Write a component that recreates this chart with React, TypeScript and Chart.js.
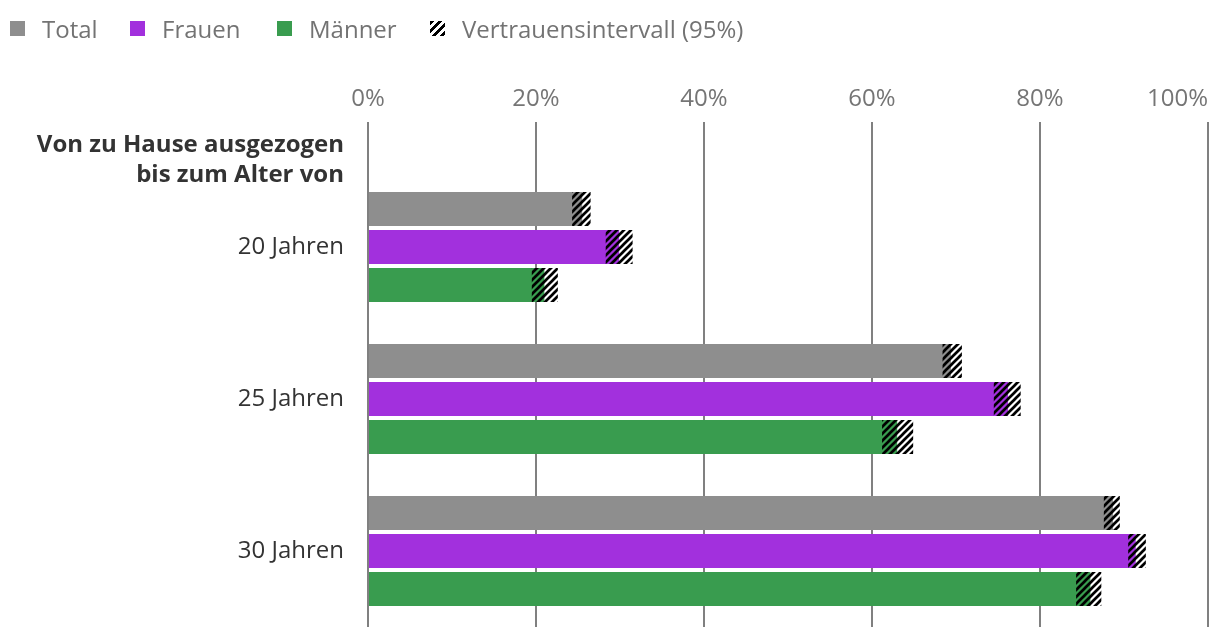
import React, { useEffect, useRef } from "react";
import { Chart, registerables } from "chart.js";

Chart.register(...registerables);

// ---- data ----
const categories = ["20 Jahren", "25 Jahren", "30 Jahren"];
const headerLines = ["Von zu Hause ausgezogen", "bis zum Alter von"];
const seriesNames = ["Total", "Frauen", "Männer"];
const ciLabel = "Vertrauensintervall (95%)";
const xTickValues = [0, 20, 40, 60, 80, 100];

const totalValues = [25.5, 69.4, 88.7];
const frauenValues = [29.9, 76.2, 91.4];
const maennerValues = [21.0, 63.0, 86.0];

const totalLow = [24.3, 68.4, 87.6];
const totalHigh = [26.5, 70.7, 89.5];
const frauenLow = [28.3, 74.5, 90.5];
const frauenHigh = [31.5, 77.7, 92.6];
const maennerLow = [19.5, 61.2, 84.3];
const maennerHigh = [22.6, 64.9, 87.3];

// ---- style ----
const seriesColors = ["#8e8e8e", "#a230dd", "#399c4f"];
const FONT = "'Open Sans', 'Noto Sans', sans-serif";
const gridColor = "#808080";
const tickColor = "#757575";
const labelColor = "#333333";
const legendLefts = [10, 130, 277, 430];

function makeHatch(): CanvasPattern | string {
  const s = 7;
  const c = document.createElement("canvas");
  c.width = s;
  c.height = s;
  const g = c.getContext("2d");
  if (!g) return "#000";
  g.strokeStyle = "#000";
  g.lineWidth = 2.7;
  g.beginPath();
  g.moveTo(-s / 2, s / 2);
  g.lineTo(s / 2, -s / 2);
  g.moveTo(0, s);
  g.lineTo(s, 0);
  g.moveTo(s / 2, (3 * s) / 2);
  g.lineTo((3 * s) / 2, s / 2);
  g.stroke();
  const p = g.createPattern(c, "repeat");
  return p || "#000";
}

export default function App() {
  const canvasRef = useRef<HTMLCanvasElement | null>(null);

  useEffect(() => {
    const canvas = canvasRef.current;
    if (!canvas) return;
    const hatch = makeHatch();
    const lows = [totalLow, frauenLow, maennerLow];
    const highs = [totalHigh, frauenHigh, maennerHigh];

    const overlay = {
      id: "overlay",
      afterDatasetsDraw(chart: any) {
        const ctx = chart.ctx;
        const xs = chart.scales.x;
        ctx.save();
        for (let d = 0; d < 3; d++) {
          const meta = chart.getDatasetMeta(d);
          meta.data.forEach((el: any, i: number) => {
            const { y, height } = el.getProps(["y", "height"], true);
            const lo = xs.getPixelForValue(lows[d][i]);
            const hi = xs.getPixelForValue(highs[d][i]);
            ctx.fillStyle = hatch;
            ctx.fillRect(lo, y - height / 2, hi - lo, height);
          });
        }
        ctx.restore();
      },
      afterDraw(chart: any) {
        const ctx = chart.ctx;
        const xs = chart.scales.x;
        const ys = chart.scales.y;
        ctx.save();
        ctx.font = `24px ${FONT}`;
        ctx.fillStyle = tickColor;
        ctx.textBaseline = "alphabetic";
        xTickValues.forEach((v) => {
          const px = xs.getPixelForValue(v);
          const label = `${v}%`;
          const w = ctx.measureText(label).width;
          ctx.textAlign = px + w / 2 > chart.width - 2 ? "right" : "center";
          ctx.fillText(label, px, 106);
        });
        ctx.font = `bold 24px ${FONT}`;
        ctx.fillStyle = labelColor;
        ctx.textAlign = "right";
        const hx = ys.right - 24;
        headerLines.forEach((line, i) => {
          ctx.fillText(line, hx, 152 + i * 30);
        });
        ctx.restore();
      },
    };

    const chart = new Chart(canvas, {
      type: "bar",
      data: {
        labels: categories,
        datasets: [totalValues, frauenValues, maennerValues].map((vals, i) => ({
          label: seriesNames[i],
          data: vals,
          backgroundColor: seriesColors[i],
          borderWidth: 0,
          categoryPercentage: 0.75,
          barPercentage: 34 / 38,
        })),
      },
      options: {
        indexAxis: "y",
        animation: false,
        responsive: false,
        layout: { padding: { top: 0, right: 12, bottom: 11, left: 0 } },
        plugins: {
          legend: { display: false },
          tooltip: { enabled: false },
        },
        scales: {
          x: {
            position: "top",
            min: 0,
            max: 100,
            ticks: { stepSize: 20, display: false },
            grid: {
              color: gridColor,
              lineWidth: 2,
              drawTicks: true,
              tickLength: 49,
              tickColor: gridColor,
              tickWidth: 2,
            },
            border: { display: false },
            afterFit: (s: any) => {
              s.height = 171;
              s.paddingLeft = 0;
              s.paddingRight = 0;
            },
          },
          y: {
            type: "category",
            grid: { display: false, drawTicks: false },
            border: { display: false },
            ticks: {
              color: labelColor,
              font: { family: FONT, size: 24 },
              padding: 24,
            },
            afterFit: (s: any) => {
              s.width = 368;
              s.paddingTop = 0;
              s.paddingBottom = 0;
            },
          },
        },
      } as any,
      plugins: [overlay],
    });

    return () => chart.destroy();
  }, []);

  const legendItems = [
    { name: seriesNames[0], bg: seriesColors[0] },
    { name: seriesNames[1], bg: seriesColors[1] },
    { name: seriesNames[2], bg: seriesColors[2] },
    {
      name: ciLabel,
      bg: "repeating-linear-gradient(135deg, #000 0px, #000 3px, #fff 3px, #fff 5.8px)",
    },
  ];

  return (
    <div
      style={{
        position: "absolute",
        left: 0,
        top: 0,
        width: 1220,
        height: 638,
        background: "#fff",
        fontFamily: FONT,
      }}
    >
      <canvas
        ref={canvasRef}
        width={1220}
        height={638}
        style={{ position: "absolute", left: 0, top: 0, width: 1220, height: 638 }}
      />
      {legendItems.map((it, i) => (
        <div
          key={it.name}
          style={{
            position: "absolute",
            left: legendLefts[i],
            top: 12,
            height: 32,
            display: "flex",
            alignItems: "center",
            fontSize: 24,
            color: "#737373",
            whiteSpace: "nowrap",
          }}
        >
          <span
            style={{
              display: "inline-block",
              width: 15,
              height: 15,
              background: it.bg,
              marginRight: 17,
            }}
          />
          <span>{it.name}</span>
        </div>
      ))}
    </div>
  );
}
